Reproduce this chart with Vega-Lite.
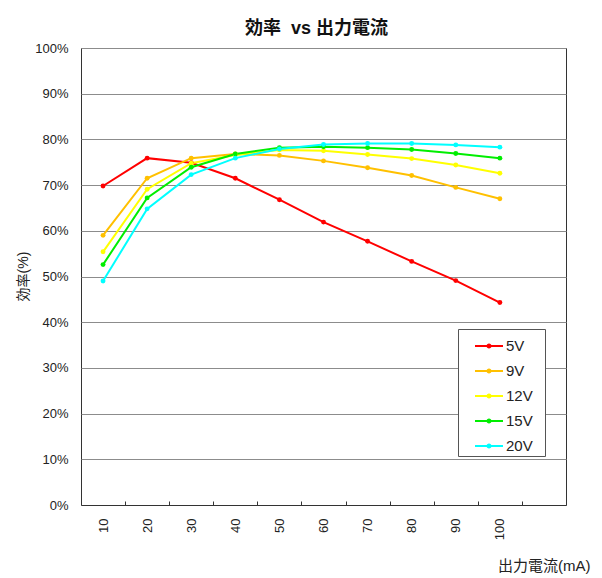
{
  "$schema": "https://vega.github.io/schema/vega-lite/v6.json",
  "width": 485,
  "height": 457,
  "autosize": "none",
  "padding": {"left": 81, "top": 48, "right": 36, "bottom": 73},
  "background": "white",
  "config": {
    "font": "Liberation Sans, Noto Sans CJK JP",
    "view": {"stroke": "#333333", "strokeWidth": 1}
  },
  "title": {
    "text": "効率\u00a0 vs 出力電流",
    "font": "Liberation Sans, Noto Sans CJK JP",
    "fontSize": 18,
    "fontWeight": "bold",
    "color": "#111111",
    "anchor": "middle",
    "offset": 4,
    "dx": -7
  },
  "data": {
    "values": [
      {"mA": 10, "V": "5V", "eff": 0.698},
      {"mA": 20, "V": "5V", "eff": 0.759},
      {"mA": 30, "V": "5V", "eff": 0.749},
      {"mA": 40, "V": "5V", "eff": 0.715},
      {"mA": 50, "V": "5V", "eff": 0.668},
      {"mA": 60, "V": "5V", "eff": 0.619},
      {"mA": 70, "V": "5V", "eff": 0.577},
      {"mA": 80, "V": "5V", "eff": 0.533},
      {"mA": 90, "V": "5V", "eff": 0.491},
      {"mA": 100, "V": "5V", "eff": 0.443},
      {"mA": 10, "V": "9V", "eff": 0.590},
      {"mA": 20, "V": "9V", "eff": 0.715},
      {"mA": 30, "V": "9V", "eff": 0.759},
      {"mA": 40, "V": "9V", "eff": 0.768},
      {"mA": 50, "V": "9V", "eff": 0.765},
      {"mA": 60, "V": "9V", "eff": 0.753},
      {"mA": 70, "V": "9V", "eff": 0.738},
      {"mA": 80, "V": "9V", "eff": 0.721},
      {"mA": 90, "V": "9V", "eff": 0.695},
      {"mA": 100, "V": "9V", "eff": 0.670},
      {"mA": 10, "V": "12V", "eff": 0.554},
      {"mA": 20, "V": "12V", "eff": 0.691},
      {"mA": 30, "V": "12V", "eff": 0.748},
      {"mA": 40, "V": "12V", "eff": 0.766},
      {"mA": 50, "V": "12V", "eff": 0.777},
      {"mA": 60, "V": "12V", "eff": 0.775},
      {"mA": 70, "V": "12V", "eff": 0.767},
      {"mA": 80, "V": "12V", "eff": 0.758},
      {"mA": 90, "V": "12V", "eff": 0.744},
      {"mA": 100, "V": "12V", "eff": 0.726},
      {"mA": 10, "V": "15V", "eff": 0.526},
      {"mA": 20, "V": "15V", "eff": 0.672},
      {"mA": 30, "V": "15V", "eff": 0.739},
      {"mA": 40, "V": "15V", "eff": 0.768},
      {"mA": 50, "V": "15V", "eff": 0.782},
      {"mA": 60, "V": "15V", "eff": 0.784},
      {"mA": 70, "V": "15V", "eff": 0.782},
      {"mA": 80, "V": "15V", "eff": 0.778},
      {"mA": 90, "V": "15V", "eff": 0.769},
      {"mA": 100, "V": "15V", "eff": 0.759},
      {"mA": 10, "V": "20V", "eff": 0.490},
      {"mA": 20, "V": "20V", "eff": 0.648},
      {"mA": 30, "V": "20V", "eff": 0.723},
      {"mA": 40, "V": "20V", "eff": 0.759},
      {"mA": 50, "V": "20V", "eff": 0.779},
      {"mA": 60, "V": "20V", "eff": 0.789},
      {"mA": 70, "V": "20V", "eff": 0.791},
      {"mA": 80, "V": "20V", "eff": 0.791},
      {"mA": 90, "V": "20V", "eff": 0.788},
      {"mA": 100, "V": "20V", "eff": 0.783}
    ]
  },
  "mark": {
    "type": "line",
    "strokeWidth": 2,
    "point": {"filled": true, "size": 24}
  },
  "encoding": {
    "x": {
      "field": "mA",
      "type": "quantitative",
      "scale": {"domain": [5, 115], "nice": false, "zero": false},
      "axis": {
        "values": [10, 15, 20, 25, 30, 35, 40, 45, 50, 55, 60, 65, 70, 75, 80, 85, 90, 95, 100, 105],
        "labelExpr": "datum.value % 10 === 0 ? datum.label : ''",
        "labelOverlap": false,
        "labelAngle": -90,
        "labelFontSize": 13,
        "labelColor": "#222222",
        "labelPadding": 17,
        "tickSize": -4,
        "tickColor": "#333333",
        "tickOpacity": {"condition": {"test": "datum.value % 10 === 5", "value": 1}, "value": 0},
        "domainColor": "#333333",
        "grid": false,
        "title": "出力電流(mA)",
        "titleFontSize": 15,
        "titleFontWeight": "normal",
        "titleColor": "#222222",
        "titleAlign": "right",
        "titleBaseline": "middle",
        "titleX": 509,
        "titleY": 60
      }
    },
    "y": {
      "field": "eff",
      "type": "quantitative",
      "scale": {"domain": [0, 1], "nice": false},
      "axis": {
        "values": [0, 0.1, 0.2, 0.3, 0.4, 0.5, 0.6, 0.7, 0.8, 0.9, 1],
        "format": ".0%",
        "grid": true,
        "gridColor": "#8c8c8c",
        "gridWidth": 1,
        "ticks": false,
        "domain": false,
        "labelFontSize": 13,
        "labelColor": "#222222",
        "labelPadding": 13,
        "title": "効率(%)",
        "titleFontSize": 14,
        "titleFontWeight": "normal",
        "titleColor": "#222222",
        "titleAlign": "center",
        "titleBaseline": "middle",
        "titleX": -58,
        "titleY": 228
      }
    },
    "color": {
      "field": "V",
      "type": "nominal",
      "sort": ["5V", "9V", "12V", "15V", "20V"],
      "scale": {
        "domain": ["5V", "9V", "12V", "15V", "20V"],
        "range": ["#ff0000", "#ffc000", "#ffff00", "#00ee00", "#00ffff"]
      },
      "legend": {
        "title": "0",
        "titleOrient": "right",
        "titleOpacity": 0,
        "titleFontSize": 11,
        "titlePadding": 3,
        "orient": "none",
        "legendX": 377,
        "legendY": 281,
        "padding": 2,
        "fillColor": "white",
        "strokeColor": "#555555",
        "symbolType": "M-1,0H1M-0.11,0A0.11,0.11,0,1,1,0.11,0A0.11,0.11,0,1,1,-0.11,0Z",
        "symbolSize": 784,
        "symbolStrokeWidth": 2,
        "symbolOffset": 14,
        "labelOffset": 2,
        "labelFontSize": 15,
        "labelColor": "#222222",
        "rowPadding": 2
      }
    }
  }
}
